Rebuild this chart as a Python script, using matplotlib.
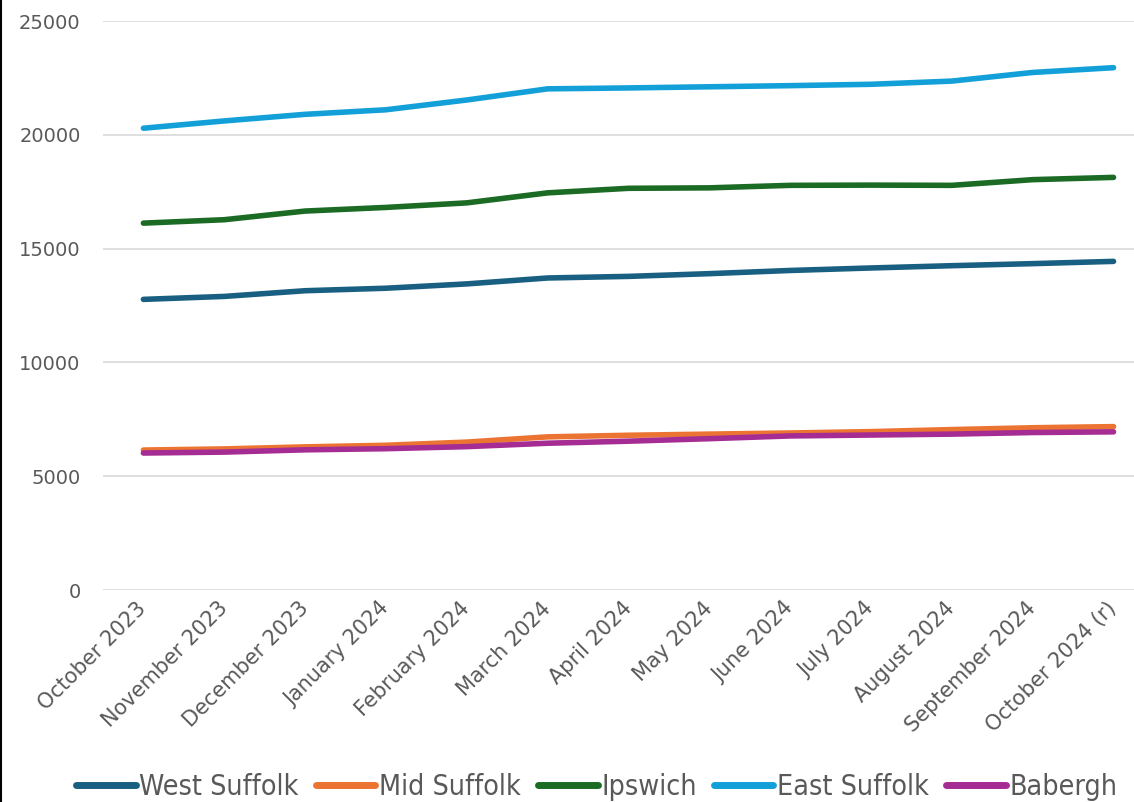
import numpy as np
import matplotlib
matplotlib.use("Agg")
from matplotlib import pyplot as plt
from matplotlib.lines import Line2D

# ------------------------------------------------------------
# data
# ------------------------------------------------------------
months = ["October 2023", "November 2023", "December 2023", "January 2024",
          "February 2024", "March 2024", "April 2024", "May 2024",
          "June 2024", "July 2024", "August 2024", "September 2024",
          "October 2024 (r)"]

west_suffolk = [12770, 12900, 13150, 13260, 13450, 13710, 13780, 13900,
                14040, 14150, 14250, 14340, 14440]
mid_suffolk = [6150, 6200, 6290, 6360, 6500, 6730, 6800, 6850,
               6900, 6960, 7050, 7130, 7180]
ipswich = [16120, 16270, 16650, 16810, 17010, 17450, 17650, 17670,
           17780, 17790, 17780, 18030, 18130]
east_suffolk = [20290, 20610, 20900, 21100, 21530, 22020, 22060, 22110,
                22160, 22220, 22360, 22740, 22950]
babergh = [6020, 6060, 6160, 6210, 6300, 6450, 6540, 6650,
           6770, 6810, 6850, 6920, 6950]

series = [("West Suffolk", west_suffolk, "#195f82"),
          ("Mid Suffolk", mid_suffolk, "#ec7432"),
          ("Ipswich", ipswich, "#1b6b24"),
          ("East Suffolk", east_suffolk, "#13a0d8"),
          ("Babergh", babergh, "#a42c93")]

# ------------------------------------------------------------
# plot
# ------------------------------------------------------------
fig = plt.figure(figsize=(11.34, 8.02), dpi=100)
# right edge of the plot area runs past the figure, like the cropped original
ax = fig.add_axes([0.0908, 0.2643, 0.9268, 0.7095])

x = np.arange(len(months))
for name, vals, col in series:
    ax.plot(x, vals, color=col, linewidth=4, solid_capstyle="round",
            label=name, zorder=3)

ax.set_xlim(-0.5, len(months) - 0.5)
ax.set_ylim(0, 25000)
ax.set_yticks(np.arange(0, 25001, 5000))
ax.yaxis.grid(True, color="#d9d9d9", linewidth=1.2)
ax.set_axisbelow(True)
for s in ax.spines.values():
    s.set_visible(False)

ax.tick_params(axis="both", length=0, labelcolor="#595959", labelsize=14)
ax.tick_params(axis="y", pad=16)
ax.tick_params(axis="x", pad=11, labelsize=15)
ax.set_xticks(x)
ax.set_xticklabels(months, rotation=45, ha="right", va="center",
                   rotation_mode="anchor")

handles = [Line2D([0], [0], color=c, linewidth=5, solid_capstyle="round")
           for _, _, c in series]
fig.legend(handles, [n for n, _, _ in series], loc="center",
           bbox_to_anchor=(0.526, 0.019), ncol=5, frameon=False,
           prop={"family": "DejaVu Sans", "stretch": "condensed", "size": 20.5},
           labelcolor="#595959", handlelength=2.1, handletextpad=0.12,
           columnspacing=0.6)

# thin black border on the left edge
fig.add_artist(Line2D([0.001, 0.001], [0, 1], color="black", linewidth=1.5,
                      transform=fig.transFigure))

plt.savefig("out.png", dpi=100)
